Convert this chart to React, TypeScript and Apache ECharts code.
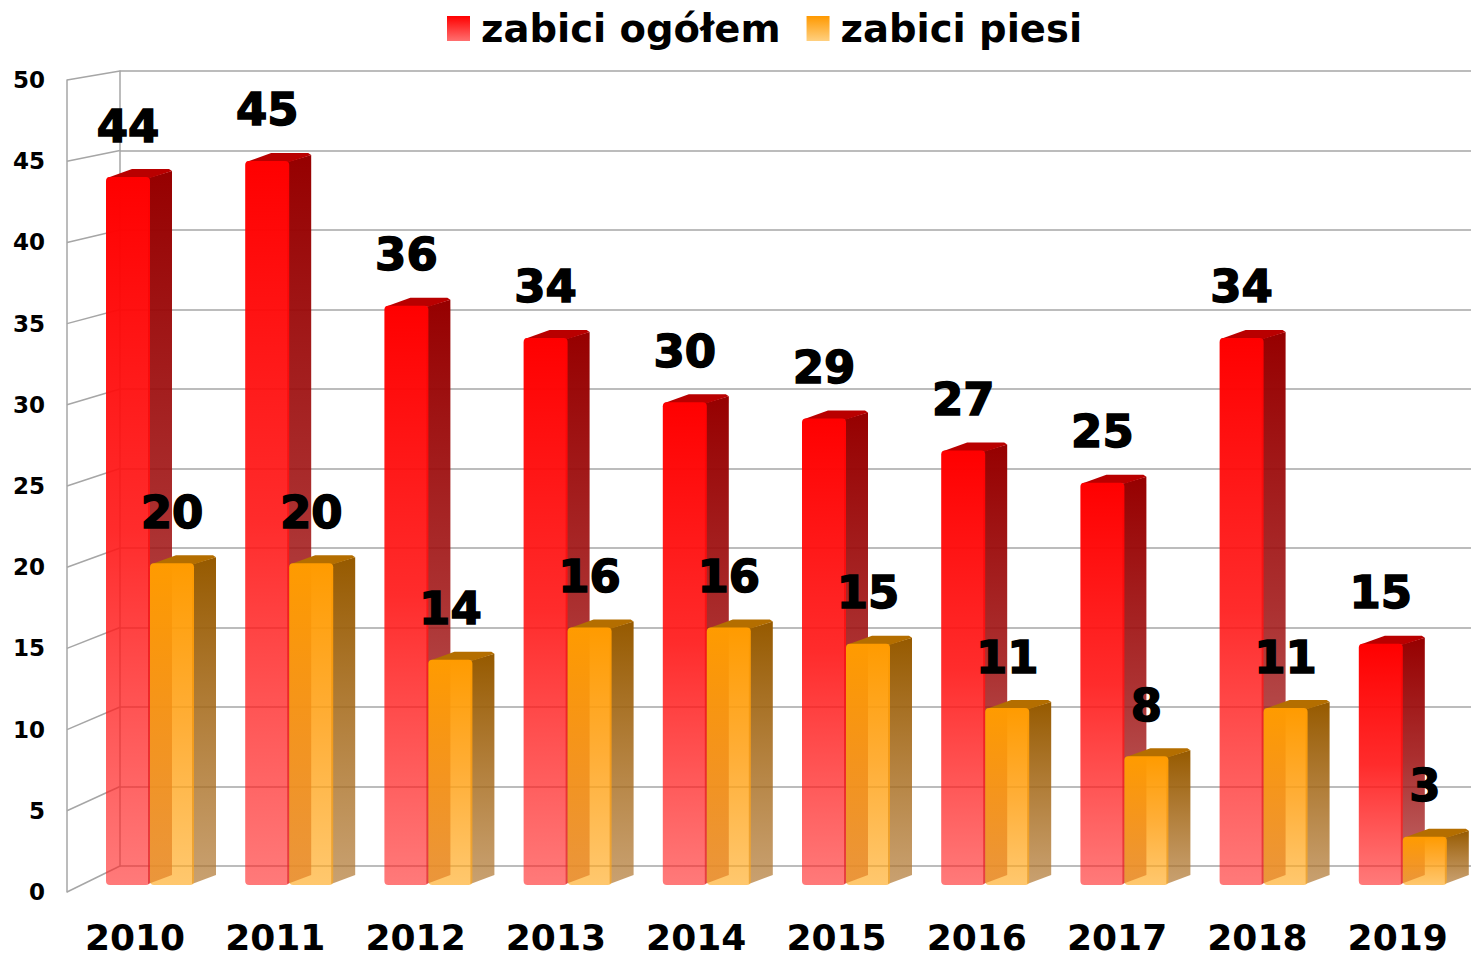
import React, { useEffect, useRef } from "react";
import * as echarts from "echarts";

const years = ["2010", "2011", "2012", "2013", "2014", "2015", "2016", "2017", "2018", "2019"];
const totalKilled = [44, 45, 36, 34, 30, 29, 27, 25, 34, 15];
const pedestriansKilled = [20, 20, 14, 16, 16, 15, 11, 8, 11, 3];
const seriesNames = ["zabici ogółem", "zabici piesi"];
const yMin = 0;
const yMax = 50;
const yStep = 5;

const FONT = '"DejaVu Sans", "Liberation Sans", sans-serif';

// layout constants (pixels)
const FRONT_LEFT = 67;
const FRONT_TOP = 80;
const FRONT_BOTTOM_Y = 892;
const BACK_LEFT = 120;
const BACK_TOP = 71;
const BACK_BOTTOM_Y = 866;
const H = 959;
const BAR_W = 44;
const DEPTH_X = 22;
const DEPTH_Y = 8;

const lg = (stops: [number, string][], horizontal = false) =>
  new echarts.graphic.LinearGradient(0, 0, horizontal ? 1 : 0, horizontal ? 0 : 1,
    stops.map(([offset, color]) => ({ offset, color })));

const palettes = [
  {
    front: () => lg([[0, "rgba(255,0,0,1)"], [0.5, "rgba(255,20,20,0.9)"], [1, "rgba(255,40,40,0.62)"]]),
    side: () => lg([[0, "rgba(150,0,0,1)"], [0.5, "rgba(160,20,20,0.88)"], [1, "rgba(165,40,40,0.68)"]]),
    top: "rgb(185,0,0)",
    legend: () => lg([[0, "#ff0000"], [1, "#ff7070"]]),
  },
  {
    front: () => lg([[0, "rgba(255,155,0,1)"], [0.5, "rgba(255,160,20,0.85)"], [1, "rgba(255,171,35,0.66)"]]),
    side: () => lg([[0, "rgba(150,90,0,1)"], [0.5, "rgba(165,105,25,0.85)"], [1, "rgba(177,120,51,0.7)"]]),
    top: "rgb(180,110,0)",
    legend: () => lg([[0, "#ff9900"], [1, "#ffd080"]]),
  },
];

const tickValues: number[] = [];
for (let v = yMin; v <= yMax; v += yStep) tickValues.push(v);

function barSeries(name: string, values: number[], k: number) {
  const pal = palettes[k];
  const offset = k === 0 ? -BAR_W : 0;
  return {
    type: "custom",
    name,
    xAxisIndex: 2,
    yAxisIndex: 2,
    z: 5 + k,
    itemStyle: { color: pal.legend() },
    data: values.map((v, i) => [i, v]),
    renderItem: (params: any, api: any) => {
      const idx = api.value(0);
      const val = api.value(1);
      const top = api.coord([idx, val]);
      const base = api.coord([idx, 0]);
      const x0 = top[0] + offset;
      const yt = top[1];
      const yb = base[1];
      return {
        type: "group",
        children: [
          {
            type: "polygon",
            shape: {
              points: [
                [x0 + BAR_W - 2, yt + 1],
                [x0 + BAR_W + DEPTH_X, yt - DEPTH_Y + 2],
                [x0 + BAR_W + DEPTH_X, yb - DEPTH_Y - 2],
                [x0 + BAR_W - 2, yb - 1],
              ],
            },
            style: { fill: pal.side() },
          },
          {
            type: "polygon",
            shape: {
              points: [
                [x0 + 1, yt + 1],
                [x0 + BAR_W, yt + 1],
                [x0 + BAR_W + DEPTH_X, yt - DEPTH_Y + 2],
                [x0 + BAR_W + DEPTH_X - 3, yt - DEPTH_Y],
                [x0 + DEPTH_X + 4, yt - DEPTH_Y],
              ],
            },
            style: { fill: pal.top },
          },
          {
            type: "rect",
            shape: { x: x0, y: yt, width: BAR_W, height: yb - yt, r: 4 },
            style: { fill: pal.front() },
          },
          {
            type: "text",
            z2: 100,
            style: {
              text: String(val),
              x: x0 + BAR_W / 2,
              y: yt - 51,
              align: "center",
              verticalAlign: "middle",
              font: `bold 45px ${FONT}`,
              fill: "#000",
              stroke: "#000",
              lineWidth: 1.5,
              shadowColor: "rgba(0,0,0,0.35)",
              shadowOffsetX: 3,
              shadowOffsetY: 3,
              shadowBlur: 2,
            },
          },
        ],
      };
    },
  };
}

export default function App() {
  const ref = useRef<HTMLDivElement>(null);
  useEffect(() => {
    if (!ref.current) return;
    const chart = echarts.init(ref.current, null, { renderer: "svg" });
    const frontH = FRONT_BOTTOM_Y - FRONT_TOP;
    const backH = BACK_BOTTOM_Y - BACK_TOP;
    const option: any = {
      animation: false,
      backgroundColor: "#ffffff",
      legend: {
        data: seriesNames,
        left: 447,
        top: 9,
        padding: 0,
        itemWidth: 23,
        itemHeight: 25,
        itemGap: 26,
        icon: "rect",
        textStyle: {
          fontFamily: FONT,
          fontWeight: "bold",
          fontSize: 38.5,
          color: "#000",
          padding: [0, 0, 0, 6],
        },
      },
      grid: [
        { left: FRONT_LEFT, right: 0, top: FRONT_TOP, bottom: H - FRONT_BOTTOM_Y },
        { left: BACK_LEFT, right: 0, top: BACK_TOP, bottom: H - BACK_BOTTOM_Y },
        { left: 80.4, width: 1392, top: 80.5, bottom: 74 },
        { left: 64.85, width: 1403, top: FRONT_TOP, bottom: H - FRONT_BOTTOM_Y },
      ],
      xAxis: [
        { gridIndex: 0, type: "value", min: 0, max: 1, show: false },
        { gridIndex: 1, type: "value", min: 0, max: 1, show: false },
        { gridIndex: 2, type: "category", data: years, show: false },
        {
          gridIndex: 3,
          type: "category",
          data: years,
          axisLine: { show: false },
          axisTick: { show: false },
          axisLabel: {
            margin: 28,
            lineHeight: 34,
            fontFamily: FONT,
            fontWeight: "bold",
            fontSize: 36,
            color: "#000",
          },
        },
      ],
      yAxis: [
        {
          gridIndex: 0,
          type: "value",
          min: yMin,
          max: yMax,
          interval: yStep,
          axisLine: { show: true, lineStyle: { color: "#a6a6a6", width: 1.5 } },
          axisTick: { show: false },
          splitLine: { show: false },
          axisLabel: {
            margin: 22,
            fontFamily: FONT,
            fontWeight: "bold",
            fontSize: 23,
            color: "#000",
          },
        },
        {
          gridIndex: 1,
          type: "value",
          min: yMin,
          max: yMax,
          interval: yStep,
          axisLine: { show: true, lineStyle: { color: "#a6a6a6", width: 1.5 } },
          axisTick: { show: false },
          axisLabel: { show: false },
          splitLine: { show: true, lineStyle: { color: "#a6a6a6", width: 1.6 } },
        },
        { gridIndex: 2, type: "value", min: yMin, max: yMax, show: false },
        { gridIndex: 3, type: "value", min: yMin, max: yMax, show: false },
      ],
      series: [
        {
          type: "custom",
          xAxisIndex: 1,
          yAxisIndex: 1,
          silent: true,
          z: 1,
          data: tickValues.map((v) => [0, v]),
          renderItem: (params: any, api: any) => {
            const p = api.coord([0, api.value(1)]);
            const fy = FRONT_BOTTOM_Y - (BACK_BOTTOM_Y - p[1]) * (frontH / backH);
            return {
              type: "line",
              shape: { x1: FRONT_LEFT, y1: fy, x2: p[0], y2: p[1] },
              style: { stroke: "#a6a6a6", lineWidth: 1.5 },
            };
          },
        },
        barSeries(seriesNames[0], totalKilled, 0),
        barSeries(seriesNames[1], pedestriansKilled, 1),
      ],
    };
    chart.setOption(option);
    return () => chart.dispose();
  }, []);
  return <div ref={ref} style={{ width: 1479, height: 959, margin: -8 }} />;
}
